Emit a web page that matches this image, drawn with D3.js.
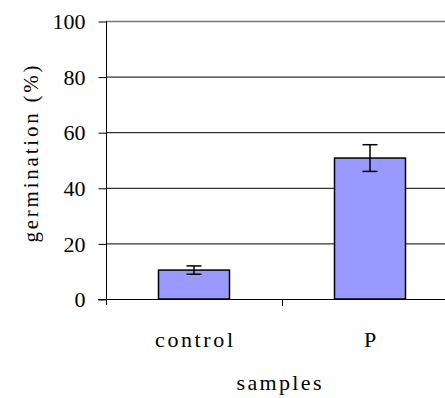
<!DOCTYPE html>
<html><head><meta charset="utf-8">
<script src="https://cdn.jsdelivr.net/npm/d3@7"></script>
<style>body{margin:0;background:#fff}svg{display:block}</style>
</head><body>
<script>
const categories = ["control", "P"];
const values = [10.4, 50.7];
const errors = [1.5, 4.8];
const yTicks = [0, 20, 40, 60, 80, 100];

const W = 445, H = 398;
const x0 = 106, x1 = 458, yTop = 21, yBot = 299;
const svg = d3.select("body").append("svg").attr("width", W).attr("height", H);
const font = "Liberation Serif, Times New Roman, serif";

const x = d3.scaleBand().domain(categories).range([x0, x1]).paddingInner(0).paddingOuter(0);
const y = d3.scaleLinear().domain([0, 100]).range([yBot, yTop]);
const bw = 71;

// gridlines
svg.append("g").selectAll("line").data(yTicks.filter(d => d > 0)).join("line")
  .attr("x1", x0).attr("x2", x1).attr("y1", d => y(d) + 0.5).attr("y2", d => y(d) + 0.5)
  .attr("stroke", d => d === 100 ? "#777" : "#000").attr("stroke-width", d => d === 100 ? 1.5 : 1);

// y axis
const ya = svg.append("g").attr("transform", `translate(${x0 + 0.5},0)`)
  .call(d3.axisLeft(y).tickValues(yTicks).tickSize(8).tickPadding(13));
ya.attr("font-family", font).attr("font-size", 22);
ya.select(".domain").attr("d", `M0,${yTop}V${yBot + 6}`).attr("stroke", "#000");
ya.selectAll(".tick line").attr("stroke", "#000").attr("transform", "translate(0,0.5)");
ya.selectAll("text").attr("fill", "#000").attr("dy", "0.35em");

// x axis line
svg.append("line").attr("x1", x0 - 8).attr("x2", x1).attr("y1", yBot + 0.5).attr("y2", yBot + 0.5).attr("stroke", "#000");
// category separator ticks
svg.append("g").selectAll("line").data(categories.slice(1)).join("line")
  .attr("x1", d => x(d) + 0.5).attr("x2", d => x(d) + 0.5).attr("y1", yBot).attr("y2", yBot + 7).attr("stroke", "#000");

// bars
svg.append("g").selectAll("rect").data(categories).join("rect")
  .attr("x", (d) => x(d) + x.bandwidth() / 2 - bw / 2)
  .attr("y", (d, i) => y(values[i]))
  .attr("width", bw)
  .attr("height", (d, i) => yBot - y(values[i]))
  .attr("fill", "#9999FF").attr("stroke", "#000").attr("stroke-width", 1.5);

// error bars
const eg = svg.append("g").attr("stroke", "#000").attr("stroke-width", 1.5);
categories.forEach((c, i) => {
  const cx = x(c) + x.bandwidth() / 2;
  const hi = y(values[i] + errors[i]), lo = y(values[i] - errors[i]);
  eg.append("line").attr("x1", cx).attr("x2", cx).attr("y1", hi).attr("y2", lo);
  eg.append("line").attr("x1", cx - 7.5).attr("x2", cx + 7.5).attr("y1", hi).attr("y2", hi);
  eg.append("line").attr("x1", cx - 7.5).attr("x2", cx + 7.5).attr("y1", lo).attr("y2", lo);
});

// category labels
svg.append("g").selectAll("text").data(categories).join("text")
  .attr("x", d => x(d) + x.bandwidth() / 2).attr("y", 347)
  .attr("text-anchor", "middle").attr("font-family", font).attr("font-size", 22)
  .each(function (d) { if (d.length > 1) d3.select(this).attr("textLength", 78).attr("lengthAdjust", "spacing"); })
  .text(d => d);

// axis titles
svg.append("text").attr("x", 279).attr("y", 390).attr("text-anchor", "middle")
  .attr("font-family", font).attr("font-size", 22)
  .attr("textLength", 85).attr("lengthAdjust", "spacing").text("samples");
svg.append("text").attr("transform", "translate(38,154) rotate(-90)").attr("text-anchor", "middle")
  .attr("font-family", font).attr("font-size", 21)
  .attr("textLength", 177).attr("lengthAdjust", "spacing").text("germination (%)");
</script>
</body></html>
